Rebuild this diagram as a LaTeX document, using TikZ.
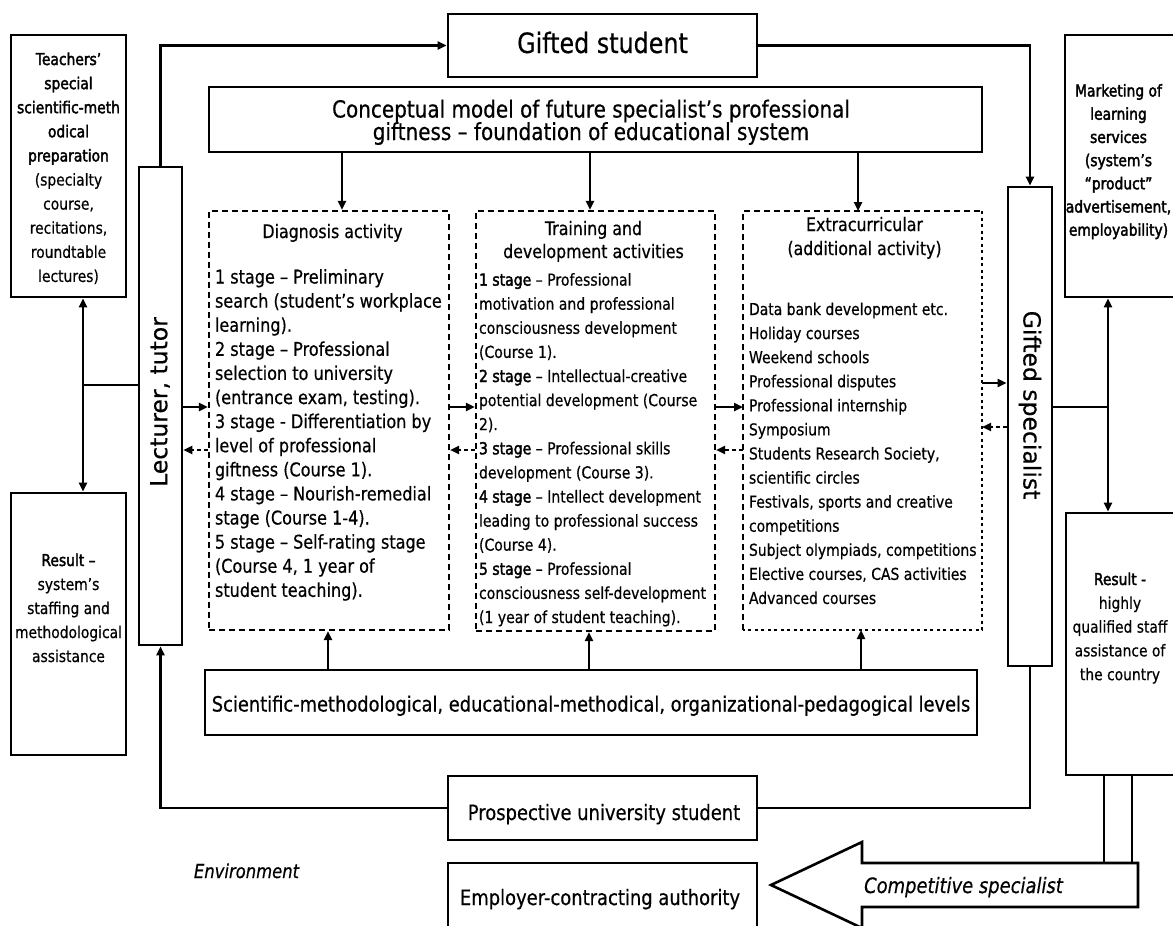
\documentclass[tikz,border=0pt]{standalone}
\usepackage{fontspec}
\setmainfont{DejaVu Sans}[FakeStretch=0.85,FakeBold=0.5]
\newfontfamily\heavyfont{DejaVu Sans}[FakeStretch=0.85,FakeBold=2.2]
\newfontfamily\sidewaysfont{DejaVu Sans}[FakeBold=0.5]
\usetikzlibrary{arrows.meta}
% size and baseline skip, with no extra interline glue
\newcommand\setsz[2]{\fontsize{#1}{#2}\selectfont\lineskiplimit=-100pt\relax}
% fixed height of the first line of a multi-line label
\newcommand\firstline{\rule{0pt}{20pt}}
\newcommand\hb[1]{{\heavyfont #1}}

\begin{document}
\begin{tikzpicture}[x=1pt,y=-1pt,
  box/.style={draw, line width=2.6pt, inner sep=0pt},
  dbox/.style={line width=2.1pt, dash pattern=on 6pt off 4pt},
  dotbox/.style={line width=2.2pt, dash pattern=on 3pt off 3.5pt},
  conn/.style={line width=2.4pt},
  arr/.style={conn, -{Triangle[length=9pt,width=8pt]}},
  darr/.style={line width=2pt, dash pattern=on 4pt off 3pt, -{Triangle[length=9pt,width=8pt]}},
  biarr/.style={conn, {Triangle[length=9pt,width=8pt]}-{Triangle[length=9pt,width=8pt]}},
  txt/.style={inner sep=0pt, outer sep=0pt},
  ml/.style={txt, anchor=north},
  mlw/.style={txt, anchor=north west, align=left},
  one/.style={txt, anchor=base},
]
\useasboundingbox (0,0) rectangle (1173,926);
\fill[white] (0,0) rectangle (1173,926);
\clip (0,0) rectangle (1173,926);

% ---------- solid boxes ----------
\node[box, minimum width=115pt, minimum height=262pt] (teach) at (68.5,166) {};
\node[box, minimum width=43pt, minimum height=478pt] (lect) at (160.5,406) {};
\node[box, minimum width=309pt, minimum height=63pt] (gstud) at (602.5,45.5) {};
\node[box, minimum width=773pt, minimum height=65pt] (concept) at (595.5,119.5) {};
\node[box, minimum width=44pt, minimum height=479pt] (gspec) at (1030,426.5) {};
\node[box, minimum width=113pt, minimum height=262pt] (market) at (1121.5,166) {};
\node[box, minimum width=115pt, minimum height=262pt] (resl) at (68.5,624) {};
\node[box, minimum width=112pt, minimum height=262pt] (resr) at (1122,644) {};
\node[box, minimum width=772pt, minimum height=65pt] (sci) at (591,702.5) {};
\node[box, minimum width=309pt, minimum height=64pt] (prosp) at (602.5,808) {};
\node[box, minimum width=309pt, minimum height=82pt] (empl) at (602.5,904) {};

% ---------- dashed activity boxes ----------
\node[draw, dbox, inner sep=0pt, minimum width=240pt, minimum height=419pt] (diag) at (329,420.5) {};
\node[draw, dbox, inner sep=0pt, minimum width=239pt, minimum height=420pt] (train) at (595.5,421) {};
\node[inner sep=0pt, outer sep=0pt, minimum width=239pt, minimum height=419pt] (extra) at (862.5,420.5) {};
\draw[dbox] (extra.south west) -- (extra.north west) -- (extra.north east);
\draw[dotbox] (extra.north east) -- (extra.south east) -- (extra.south west);

% ---------- labels ----------
\node[one, font=\setsz{28}{34}] (gstudtext) at (602.5,53) {Gifted student};
\node[ml, align=center, font=\setsz{23.5}{22.5}] (concepttext) at (591,97.5)
  {\firstline Conceptual model of future specialist’s professional\\giftness – foundation of educational system};

\node[one, font=\setsz{18.6}{23}] (diaghead) at (332.5,238) {Diagnosis activity};
\node[ml, align=center, font=\setsz{18.6}{23}] (trainhead) at (593.5,215)
  {\firstline Training and\\development activities};
\node[ml, align=center, font=\setsz{18.6}{24}] (extrahead) at (864.5,211)
  {\firstline Extracurricular\\(additional activity)};

\node[mlw, font=\setsz{18.9}{24.1}] (diagtext) at (215,263.5)
  {\firstline 1 stage – Preliminary\\
   search (student’s workplace\\
   learning).\\
   2 stage – Professional\\
   selection to university\\
   (entrance exam, testing).\\
   3 stage - Differentiation by\\
   level of professional\\
   giftness (Course 1).\\
   4 stage – Nourish-remedial\\
   stage (Course 1-4).\\
   5 stage – Self-rating stage\\
   (Course 4, 1 year of\\
   student teaching).};

\node[mlw, font=\setsz{16.5}{24.1}] (traintext) at (479,265.6)
  {\firstline\hb{1 stage} – Professional\\
   motivation and professional\\
   consciousness development\\
   (Course 1).\\
   \hb{2 stage} – Intellectual-creative\\
   potential development (Course\\
   2).\\
   \hb{3 stage} – Professional skills\\
   development (Course 3).\\
   \hb{4 stage} – Intellect development\\
   leading to professional success\\
   (Course 4).\\
   \hb{5 stage} – Professional\\
   consciousness self-development\\
   (1 year of student teaching).};

\node[mlw, font=\setsz{16.4}{24.08}] (extratext) at (749,295)
  {\firstline Data bank development etc.\\
   Holiday courses\\
   Weekend schools\\
   Professional disputes\\
   Professional internship\\
   Symposium\\
   Students Research Society,\\
   scientific circles\\
   Festivals, sports and creative\\
   competitions\\
   Subject olympiads, competitions\\
   Elective courses, CAS activities\\
   Advanced courses};

\node[ml, align=center, font=\setsz{16.3}{24.1}] (teachtext) at (68.5,45)
  {\firstline\hb{Teachers’}\\ \hb{special}\\ \hb{scientific-meth}\\ \hb{odical}\\ \hb{preparation}\\
   (specialty\\ course,\\ recitations,\\ roundtable\\ lectures)};
\node[ml, align=center, font=\heavyfont\setsz{16.3}{23.2}] (markettext) at (1118.5,76.5)
  {\firstline Marketing of\\ learning\\ services\\ (system’s\\ “product”\\ advertisement,\\ employability)};
\node[ml, align=center, font=\setsz{16.3}{24}] (resltext) at (68.5,546)
  {\firstline\hb{Result –}\\ system’s\\ staffing and\\ methodological\\ assistance};
\node[ml, align=center, font=\setsz{16.3}{23.8}] (resrtext) at (1120,565)
  {\firstline\hb{Result -}\\ highly\\ qualified staff\\ assistance of\\ the country};

\node[one, font=\setsz{21}{25}] (scitext) at (591,711.5)
  {Scientific-methodological, educational-methodical, organizational-pedagogical levels};
\node[one, font=\setsz{21.1}{25}] (prosptext) at (604,820) {Prospective university student};
\node[one, font=\setsz{21.1}{25}] (empltext) at (600,905) {Employer-contracting authority};
\node[one, font=\itshape\setsz{19.3}{24}] (envtext) at (246.5,878) {Environment};
\node[one, font=\itshape\setsz{21.1}{25}] (comptext) at (963.5,893) {Competitive specialist};

\node[txt, rotate=90, font=\sidewaysfont\setsz{23.5}{28}] (lecttext) at (160,402) {Lecturer, tutor};
\node[txt, rotate=-90, font=\sidewaysfont\setsz{23.5}{28}] (gspectext) at (1030,405) {Gifted specialist};

% ---------- outer loop ----------
\draw[arr] (lect.north) |- (gstud.west);
\draw[arr] (gstud.east) -| (gspec.north);
\draw[arr] (prosp.west) -| (lect.south);
\draw[conn] (prosp.east) -| (gspec.south);

% ---------- model to activities, levels to activities ----------
\coordinate (ca) at (342,0);
\coordinate (cb) at (590,0);
\coordinate (cc) at (858,0);
\draw[arr] (concept.south -| ca) -- (diag.north -| ca);
\draw[arr] (concept.south -| cb) -- (train.north -| cb);
\draw[arr] (concept.south -| cc) -- (extra.north -| cc);
\coordinate (sa) at (328,0);
\coordinate (sb) at (589,0);
\coordinate (sc) at (861,0);
\draw[arr] (sci.north -| sa) -- (diag.south -| sa);
\draw[arr] (sci.north -| sb) -- (train.south -| sb);
\draw[arr] (sci.north -| sc) -- (extra.south -| sc);

% ---------- forward and feedback between columns ----------
\coordinate (fwd) at (0,407);
\coordinate (bwd) at (0,450);
\draw[arr] (lect.east |- fwd) -- (diag.west |- fwd);
\draw[darr] (diag.west |- bwd) -- (lect.east |- bwd);
\draw[arr] (diag.east |- fwd) -- (train.west |- fwd);
\draw[darr] (train.west |- bwd) -- (diag.east |- bwd);
\draw[arr] (train.east |- fwd) -- (extra.west |- fwd);
\draw[darr] (extra.west |- bwd) -- (train.east |- bwd);
\coordinate (fwdb) at (0,383);
\coordinate (bwdb) at (0,427);
\draw[arr] (extra.east |- fwdb) -- (gspec.west |- fwdb);
\draw[darr] (gspec.west |- bwdb) -- (extra.east |- bwdb);

% ---------- side links ----------
\coordinate (lx) at (83,385);
\draw[biarr] (teach.south -| lx) -- (resl.north -| lx);
\draw[conn] (lx) -- (lect.west |- lx);
\coordinate (rx) at (1108,407);
\draw[biarr] (market.south -| rx) -- (resr.north -| rx);
\draw[conn] (gspec.east |- rx) -- (rx);

% ---------- competitive specialist arrow ----------
\draw[line width=2.6pt, line join=miter]
  (1138,863) -- (862,863) -- (862,842) -- (771,885) -- (862,928) -- (862,907) -- (1138,907) -- cycle;
\coordinate (cstop) at (1000,863);
\coordinate (ka) at (1104,0);
\coordinate (kb) at (1132,0);
\draw[conn] (resr.south -| ka) -- (cstop -| ka);
\draw[conn] (resr.south -| kb) -- (cstop -| kb);
\end{tikzpicture}
\end{document}
